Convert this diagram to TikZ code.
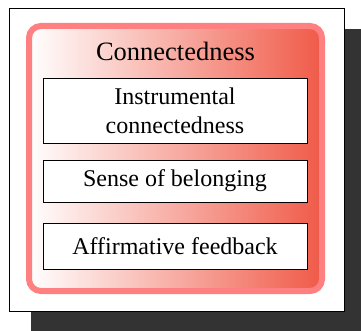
\documentclass[tikz,border=0pt]{standalone}
\usepackage{fontspec}
\setmainfont{Liberation Serif}
\definecolor{shadowgray}{RGB}{51,51,51}
\definecolor{redend}{RGB}{240,90,72}
\definecolor{pinkborder}{RGB}{255,128,128}
\tikzset{
  itembox/.style={draw=black, line width=0.9pt, fill=white, minimum width=264pt,
    inner sep=0pt, align=center, font=\fontsize{24}{29}\selectfont},
  titletext/.style={font=\fontsize{26.5}{30}\selectfont, anchor=base}
}
\begin{document}
\begin{tikzpicture}[x=1pt,y=-1pt]
\useasboundingbox (0,0) rectangle (361,331);
\fill[shadowgray] (31,29) rectangle (370,340);
\draw[fill=white, line width=0.9pt] (9,8) rectangle (344,311);
\shade[left color=white, right color=redend, rounded corners=12pt] (29,26) rectangle (322,291);
\draw[pinkborder, line width=6pt, rounded corners=12pt] (29,26) rectangle (322,291);
\node[titletext] (title) at (175.5,61) {Connectedness};
\node[itembox, minimum height=65pt] (b1) at (175,110.5) {Instrumental\\connectedness};
\node[itembox, minimum height=42pt] (b2) at (175,181) {Sense of belonging};
\node[itembox, minimum height=46pt] (b3) at (175,246) {Affirmative feedback};
\end{tikzpicture}
\end{document}
